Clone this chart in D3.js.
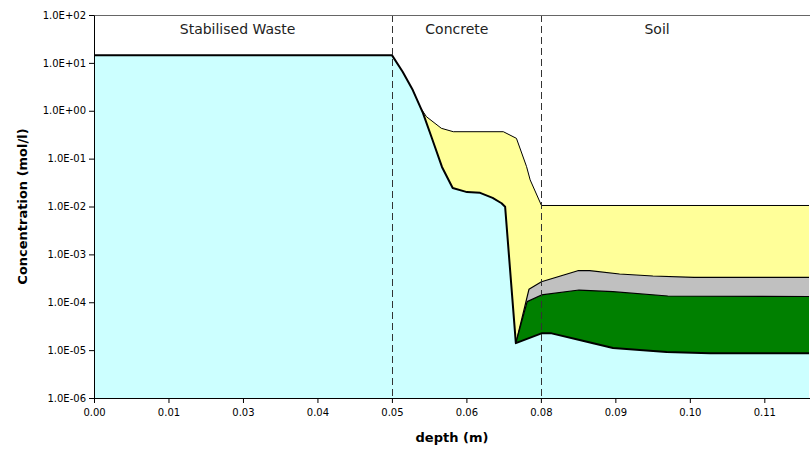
<!DOCTYPE html>
<html>
<head>
<meta charset="utf-8">
<script src="https://cdn.jsdelivr.net/npm/d3@7"></script>
<style>
  body { margin: 0; background: #fff; }
  svg { display: block; }
  .tick text { font-family: "DejaVu Sans", sans-serif; font-size: 10px; fill: #000; }
</style>
</head>
<body>
<div id="chart"></div>
<script>
// data
var xTicks      = [0, 0.0125, 0.025, 0.0375, 0.05, 0.0625, 0.075, 0.0875, 0.1, 0.1125];
var xTickLabels = ["0.00", "0.01", "0.03", "0.04", "0.05", "0.06", "0.08", "0.09", "0.10", "0.11"];
var yTicks      = [1e-6, 1e-5, 1e-4, 1e-3, 1e-2, 1e-1, 1, 10, 100];
var yTickLabels = ["1.0E-06", "1.0E-05", "1.0E-04", "1.0E-03", "1.0E-02", "1.0E-01", "1.0E+00", "1.0E+01", "1.0E+02"];

var zones     = ["Stabilised Waste", "Concrete", "Soil"];
var zoneMid   = [0.0241, 0.0609, 0.0945];
var zoneEdges = [0.05, 0.075];

// main (thick line) curve
var cyanX = [0, 0.05, 0.0518, 0.0535, 0.0552, 0.0567, 0.0584, 0.0602, 0.0626, 0.0648, 0.0669, 0.0684, 0.0690, 0.0708, 0.0751, 0.0768, 0.0815, 0.0871, 0.0961, 0.1034, 0.12];
var cyanY = [14.5, 14.5, 6.5, 2.7, 0.9, 0.27, 0.067, 0.0243, 0.020, 0.0193, 0.0151, 0.0117, 0.0099, 1.4e-5, 2.24e-5, 2.24e-5, 1.63e-5, 1.11e-5, 9.1e-6, 8.6e-6, 8.6e-6];

var yellowX = [0.0535, 0.0547, 0.0558, 0.0583, 0.0603, 0.0687, 0.0709, 0.0726, 0.0732, 0.0751, 0.12];
var yellowY = [2.7, 1.2, 0.75, 0.43, 0.365, 0.365, 0.265, 0.068, 0.036, 0.0105, 0.0105];

var greyX = [0.0708, 0.0730, 0.0751, 0.0812, 0.0832, 0.0882, 0.0938, 0.1007, 0.12];
var greyY = [1.4e-5, 1.86e-4, 2.68e-4, 4.56e-4, 4.56e-4, 3.89e-4, 3.53e-4, 3.32e-4, 3.32e-4];

var greenX = [0.0708, 0.0727, 0.0751, 0.0814, 0.0871, 0.0963, 0.12];
var greenY = [1.4e-5, 1.03e-4, 1.42e-4, 1.80e-4, 1.66e-4, 1.35e-4, 1.32e-4];

var width = 810, height = 451;
var mLeft = 94, mRight = 809, mTop = 15, mBottom = 398;

var svg = d3.select("#chart").append("svg")
  .attr("width", width)
  .attr("height", height);

var x = d3.scaleLinear().domain([0, 0.12]).range([mLeft, mRight]);
var y = d3.scaleLog().domain([1e-6, 1e2]).range([mBottom, mTop]);

svg.append("clipPath").attr("id", "plot")
  .append("rect").attr("x", mLeft).attr("y", mTop).attr("width", mRight - mLeft + 1).attr("height", mBottom - mTop);

var g = svg.append("g").attr("clip-path", "url(#plot)");

function pts(xs, ys) {
  return xs.map(function(d, i) { return [d, ys[i]]; });
}

var area = d3.area()
  .x(function(d) { return x(d[0]); })
  .y0(y(1e-6))
  .y1(function(d) { return y(d[1]); });

var line = d3.line()
  .x(function(d) { return x(d[0]); })
  .y(function(d) { return y(d[1]); });

var layers = [
  { xs: yellowX, ys: yellowY, fill: "#FFFF99", sw: 1 },
  { xs: greyX,   ys: greyY,   fill: "#C0C0C0", sw: 1.2 },
  { xs: greenX,  ys: greenY,  fill: "#008000", sw: 1.2 },
  { xs: cyanX,   ys: cyanY,   fill: "#CCFFFF", sw: 2 }
];

layers.forEach(function(l) {
  var d = pts(l.xs, l.ys);
  g.append("path").attr("d", area(d)).attr("fill", l.fill);
  g.append("path").attr("d", line(d))
    .attr("fill", "none")
    .attr("stroke", "#000")
    .attr("stroke-width", l.sw)
    .attr("stroke-linejoin", "round");
});

// zone boundaries
svg.selectAll(".edge")
  .data(zoneEdges)
  .enter().append("line")
  .attr("class", "edge")
  .attr("x1", function(d) { return Math.round(x(d)) + 0.5; })
  .attr("x2", function(d) { return Math.round(x(d)) + 0.5; })
  .attr("y1", mTop)
  .attr("y2", mBottom)
  .attr("stroke", "#333")
  .attr("stroke-width", 1)
  .attr("stroke-dasharray", "7,4");

svg.selectAll(".zone")
  .data(zones)
  .enter().append("text")
  .attr("class", "zone")
  .attr("x", function(d, i) { return x(zoneMid[i]); })
  .attr("y", 34)
  .attr("text-anchor", "middle")
  .style("font-family", "DejaVu Sans, sans-serif")
  .style("font-size", "14px")
  .style("fill", "#222")
  .text(function(d) { return d; });

// frame top
svg.append("line")
  .attr("x1", mLeft).attr("x2", width)
  .attr("y1", mTop + 0.5).attr("y2", mTop + 0.5)
  .attr("stroke", "#666");

// axes
var xAxis = d3.axisBottom(x)
  .tickValues(xTicks)
  .tickFormat(function(d, i) { return xTickLabels[i]; })
  .tickSize(5)
  .tickSizeOuter(0);

var yAxis = d3.axisLeft(y)
  .tickValues(yTicks)
  .tickFormat(function(d, i) { return yTickLabels[i]; })
  .tickSize(5)
  .tickSizeOuter(0);

var gx = svg.append("g")
  .attr("transform", "translate(0," + mBottom + ")")
  .call(xAxis);
gx.select(".domain").attr("d", "M" + mLeft + ",0.5H" + width);
gx.selectAll(".tick text").attr("dy", "1.0em");

var gy = svg.append("g")
  .attr("transform", "translate(" + mLeft + ",0)")
  .call(yAxis);
gy.selectAll(".tick text").attr("x", -8);

svg.append("text")
  .attr("x", 452)
  .attr("y", 442)
  .attr("text-anchor", "middle")
  .style("font-family", "DejaVu Sans, sans-serif")
  .style("font-size", "13px")
  .style("font-weight", "bold")
  .text("depth (m)");

svg.append("text")
  .attr("transform", "translate(27," + ((mTop + mBottom) / 2) + ") rotate(-90)")
  .attr("text-anchor", "middle")
  .style("font-family", "DejaVu Sans, sans-serif")
  .style("font-size", "13px")
  .style("font-weight", "bold")
  .text("Concentration (mol/l)");
</script>
</body>
</html>
